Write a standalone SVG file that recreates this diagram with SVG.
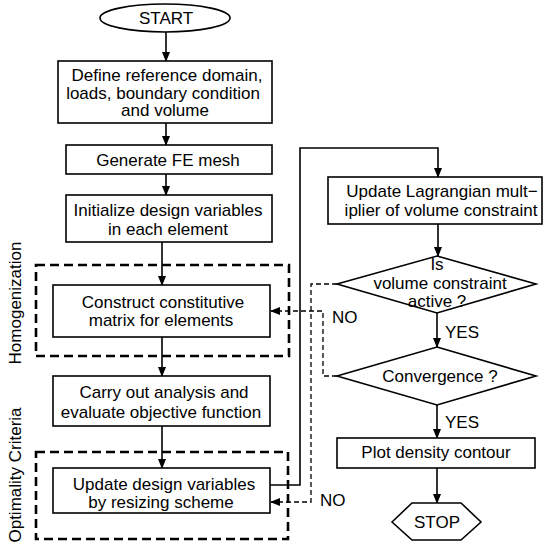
<svg xmlns="http://www.w3.org/2000/svg" width="545" height="551" viewBox="0 0 545 551">
<defs>
<style>
.box{fill:#fff;stroke:#000;stroke-width:1.6}
.t{font-family:"Liberation Sans",Arial,sans-serif;font-size:17px;fill:#000;text-anchor:middle}
.l{font-family:"Liberation Sans",Arial,sans-serif;font-size:17px;fill:#000}
.c{fill:none;stroke:#000;stroke-width:1.6}
.d{fill:none;stroke:#000;stroke-width:1.3;stroke-dasharray:5 3}
.g{fill:none;stroke:#000;stroke-width:2.6;stroke-dasharray:9 5}
</style>
<marker id="ah" markerWidth="10" markerHeight="8" refX="9" refY="4" orient="auto" markerUnits="userSpaceOnUse">
<path d="M0,0 L10,4 L0,8 Z" fill="#000"/>
</marker>
</defs>
<rect width="545" height="551" fill="#fff"/>

<g id="groups">
<rect class="g" x="36" y="265" width="253" height="91"/>
<rect class="g" x="36" y="452" width="252" height="87"/>
<text class="t" transform="translate(21,303) rotate(-90)">Homogenization</text>
<text class="t" transform="translate(21,475) rotate(-90)">Optimality Criteria</text>
</g>

<g id="connectors">
<line class="c" x1="166" y1="32" x2="166" y2="61" marker-end="url(#ah)"/>
<line class="c" x1="166" y1="123" x2="166" y2="145" marker-end="url(#ah)"/>
<line class="c" x1="166" y1="174" x2="166" y2="195" marker-end="url(#ah)"/>
<line class="c" x1="162" y1="242" x2="162" y2="285" marker-end="url(#ah)"/>
<line class="c" x1="162" y1="337" x2="162" y2="376" marker-end="url(#ah)"/>
<line class="c" x1="162" y1="426" x2="162" y2="468" marker-end="url(#ah)"/>
<polyline class="c" points="270,485 300,485 300,148 438,148 438,177" marker-end="url(#ah)"/>
<line class="c" x1="438" y1="224" x2="438" y2="256" marker-end="url(#ah)"/>
<line class="c" x1="437" y1="313" x2="437" y2="347" marker-end="url(#ah)"/>
<line class="c" x1="437" y1="405" x2="437" y2="438" marker-end="url(#ah)"/>
<line class="c" x1="437" y1="468" x2="437" y2="503" marker-end="url(#ah)"/>
<polyline class="d" points="337,284 311,284 311,502 271,502" marker-end="url(#ah)"/>
<polyline class="d" points="337,376 323,376 323,311 271,311" marker-end="url(#ah)"/>
<text class="l" x="445" y="338">YES</text>
<text class="l" x="445" y="428">YES</text>
<text class="l" x="332" y="323">NO</text>
<text class="l" x="320" y="506">NO</text>
</g>

<g id="start">
<ellipse class="box" cx="165" cy="18" rx="65" ry="14"/>
<text class="t" x="166" y="24">START</text>
</g>

<g id="define">
<rect class="box" x="58" y="61" width="214" height="62"/>
<text class="t" x="167" y="81">Define reference domain,</text>
<text class="t" x="163" y="98.5">loads, boundary condition</text>
<text class="t" x="165" y="116">and volume</text>
</g>

<g id="mesh">
<rect class="box" x="66" y="145" width="206" height="29"/>
<text class="t" x="168" y="166">Generate FE mesh</text>
</g>

<g id="init">
<rect class="box" x="66" y="195" width="206" height="47"/>
<text class="t" x="168" y="216">Initialize design variables</text>
<text class="t" x="168" y="235">in each element</text>
</g>

<g id="construct">
<rect class="box" x="53" y="285" width="217" height="52"/>
<text class="t" x="163" y="308">Construct  constitutive</text>
<text class="t" x="161" y="326">matrix for elements</text>
</g>

<g id="analysis">
<rect class="box" x="53" y="376" width="217" height="50"/>
<text class="t" x="164" y="398">Carry out analysis and</text>
<text class="t" x="161" y="418">evaluate objective function</text>
</g>

<g id="update">
<rect class="box" x="53" y="468" width="217" height="45"/>
<text class="t" x="164" y="490">Update design variables</text>
<text class="t" x="161" y="508">by resizing scheme</text>
</g>

<g id="lagrange">
<rect class="box" x="328" y="177" width="214" height="47"/>
<text class="t" x="442" y="197">Update Lagrangian mult−</text>
<text class="t" x="441" y="216">iplier of volume constraint</text>
</g>

<g id="active">
<polygon class="box" points="437,256 536,284 437,313 337,284"/>
<text class="t" x="437" y="270">Is</text>
<text class="t" x="440" y="288.5">volume constraint</text>
<text class="t" x="437" y="307">active ?</text>
</g>

<g id="convergence">
<polygon class="box" points="437,347 536,376 437,405 337,376"/>
<text class="t" x="440" y="382">Convergence ?</text>
</g>

<g id="plot">
<rect class="box" x="337" y="438" width="198" height="30"/>
<text class="t" x="436" y="458">Plot density contour</text>
</g>

<g id="stop">
<polygon class="box" points="392,522 412,503 461,503 481,522 461,540 412,540"/>
<text class="t" x="437" y="528">STOP</text>
</g>
</svg>
